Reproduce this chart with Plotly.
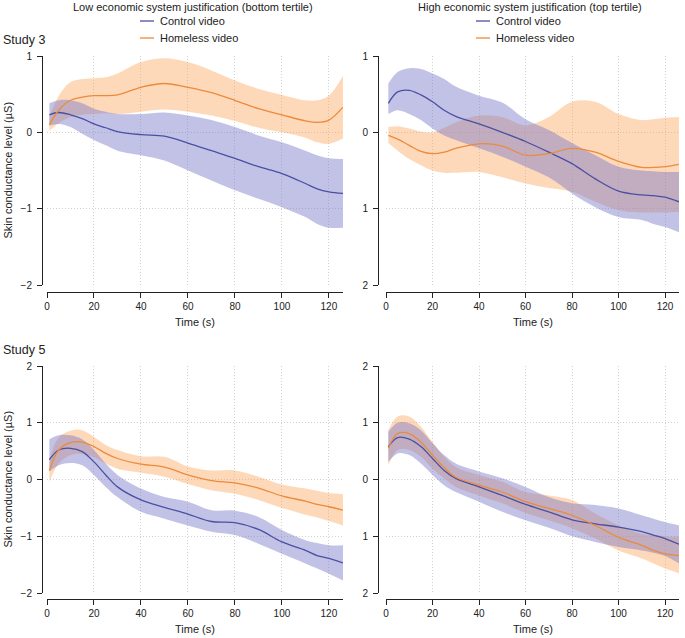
import plotly.graph_objects as go

# ---------------- data ----------------
TIME = [1, 5, 10, 15, 20, 25, 30, 40, 50, 60, 70, 80, 90, 100, 110, 115, 120, 126]
X_TICKS = [0, 20, 40, 60, 80, 100, 120]

# Study 3, low system justification (bottom tertile)
S3_LOW_CONTROL = [0.23, 0.26, 0.23, 0.18, 0.11, 0.06, 0.01, -0.03, -0.05, -0.14, -0.24, -0.34, -0.45, -0.54, -0.67, -0.74, -0.78, -0.80]
S3_LOW_CONTROL_HI = [0.38, 0.42, 0.42, 0.38, 0.31, 0.27, 0.24, 0.24, 0.26, 0.22, 0.16, 0.07, -0.04, -0.13, -0.24, -0.30, -0.34, -0.35]
S3_LOW_CONTROL_LO = [0.09, 0.11, 0.07, -0.02, -0.10, -0.17, -0.24, -0.30, -0.37, -0.50, -0.63, -0.76, -0.87, -0.98, -1.11, -1.20, -1.25, -1.25]
S3_LOW_HOMELESS = [0.10, 0.29, 0.42, 0.46, 0.48, 0.48, 0.49, 0.59, 0.64, 0.59, 0.52, 0.42, 0.31, 0.23, 0.15, 0.13, 0.16, 0.33]
S3_LOW_HOMELESS_HI = [0.20, 0.48, 0.66, 0.70, 0.71, 0.72, 0.77, 0.92, 0.97, 0.92, 0.81, 0.68, 0.57, 0.49, 0.42, 0.42, 0.48, 0.74]
S3_LOW_HOMELESS_LO = [0.02, 0.12, 0.20, 0.23, 0.24, 0.25, 0.24, 0.27, 0.30, 0.27, 0.22, 0.15, 0.06, 0.00, -0.07, -0.13, -0.15, -0.08]

# Study 3, high system justification (top tertile)
S3_HIGH_CONTROL = [0.38, 0.53, 0.55, 0.49, 0.40, 0.29, 0.21, 0.11, 0.00, -0.12, -0.26, -0.41, -0.61, -0.77, -0.82, -0.83, -0.85, -0.91]
S3_HIGH_CONTROL_HI = [0.64, 0.79, 0.84, 0.83, 0.77, 0.70, 0.60, 0.48, 0.39, 0.17, 0.03, -0.14, -0.30, -0.45, -0.50, -0.51, -0.52, -0.52]
S3_HIGH_CONTROL_LO = [0.24, 0.29, 0.24, 0.16, 0.05, -0.04, -0.10, -0.21, -0.32, -0.45, -0.59, -0.80, -0.98, -1.11, -1.15, -1.20, -1.24, -1.31]
S3_HIGH_HOMELESS = [-0.04, -0.09, -0.17, -0.25, -0.28, -0.26, -0.21, -0.15, -0.18, -0.30, -0.28, -0.21, -0.26, -0.38, -0.46, -0.46, -0.45, -0.42]
S3_HIGH_HOMELESS_HI = [0.07, 0.08, 0.05, 0.01, 0.00, 0.06, 0.13, 0.22, 0.20, 0.09, 0.20, 0.40, 0.40, 0.24, 0.16, 0.17, 0.19, 0.20]
S3_HIGH_HOMELESS_LO = [-0.14, -0.24, -0.35, -0.43, -0.50, -0.53, -0.53, -0.52, -0.59, -0.67, -0.73, -0.78, -0.91, -1.02, -1.05, -1.05, -1.05, -1.04]

# Study 5, low system justification (bottom tertile)
S5_LOW_CONTROL = [0.35, 0.52, 0.55, 0.49, 0.31, 0.08, -0.13, -0.36, -0.49, -0.61, -0.74, -0.76, -0.88, -1.10, -1.25, -1.34, -1.39, -1.47]
S5_LOW_CONTROL_HI = [0.71, 0.78, 0.78, 0.71, 0.52, 0.28, 0.08, -0.16, -0.31, -0.39, -0.54, -0.55, -0.66, -0.89, -1.07, -1.12, -1.16, -1.16]
S5_LOW_CONTROL_LO = [0.14, 0.25, 0.29, 0.25, 0.08, -0.13, -0.31, -0.57, -0.69, -0.81, -0.92, -0.98, -1.13, -1.31, -1.48, -1.57, -1.66, -1.78]
S5_LOW_HOMELESS = [0.16, 0.52, 0.65, 0.66, 0.58, 0.46, 0.37, 0.27, 0.22, 0.08, -0.02, -0.06, -0.15, -0.29, -0.38, -0.44, -0.48, -0.54]
S5_LOW_HOMELESS_HI = [0.34, 0.74, 0.86, 0.87, 0.75, 0.61, 0.52, 0.41, 0.40, 0.23, 0.16, 0.16, 0.05, -0.09, -0.16, -0.20, -0.24, -0.26]
S5_LOW_HOMELESS_LO = [-0.04, 0.28, 0.43, 0.45, 0.39, 0.28, 0.19, 0.12, 0.05, -0.08, -0.19, -0.25, -0.36, -0.50, -0.62, -0.67, -0.73, -0.81]

# Study 5, high system justification (top tertile)
S5_HIGH_CONTROL = [0.58, 0.74, 0.71, 0.58, 0.37, 0.16, 0.02, -0.13, -0.28, -0.44, -0.57, -0.71, -0.78, -0.84, -0.92, -0.98, -1.04, -1.14]
S5_HIGH_CONTROL_HI = [0.84, 1.00, 0.99, 0.87, 0.64, 0.43, 0.28, 0.14, 0.02, -0.13, -0.31, -0.42, -0.45, -0.51, -0.63, -0.69, -0.75, -0.81]
S5_HIGH_CONTROL_LO = [0.31, 0.46, 0.43, 0.28, 0.08, -0.10, -0.22, -0.39, -0.57, -0.72, -0.85, -1.00, -1.10, -1.19, -1.25, -1.29, -1.35, -1.48]
S5_HIGH_HOMELESS = [0.55, 0.81, 0.81, 0.66, 0.43, 0.21, 0.04, -0.10, -0.22, -0.39, -0.51, -0.63, -0.81, -1.02, -1.16, -1.25, -1.31, -1.34]
S5_HIGH_HOMELESS_HI = [0.87, 1.11, 1.11, 0.93, 0.66, 0.40, 0.22, 0.08, -0.04, -0.22, -0.28, -0.36, -0.60, -0.81, -0.96, -0.98, -1.00, -1.01]
S5_HIGH_HOMELESS_LO = [0.25, 0.52, 0.52, 0.40, 0.19, 0.02, -0.13, -0.28, -0.42, -0.59, -0.72, -0.86, -1.04, -1.25, -1.39, -1.48, -1.57, -1.65]

COL_TITLES = ["Low economic system justification (bottom tertile)",
              "High economic system justification (top tertile)"]
ROW_LABELS = ["Study 3", "Study 5"]
SERIES_NAMES = ["Control video", "Homeless video"]
Y_TITLE = "Skin conductance level (µS)"
X_TITLE = "Time (s)"

# ---------------- styling ----------------
W, H = 685, 638
FONT = "Liberation Sans, Arial, Helvetica, sans-serif"
CTRL_LINE = "#4b4fa3"
CTRL_FILL = "rgba(120,120,200,0.45)"
HOME_LINE = "#ec8a3c"
HOME_FILL = "rgba(253,160,80,0.40)"
AXIS_COL = "#222222"
GRID_COL = "#d0d0d0"


def fx(p):
    return p / W


def fy(p):
    return 1 - p / H


panels = [
    dict(n=1, xpx=(47, 343), ypx=(56, 285), yline=42, xline=292, yr=[-2, 1],
         tv=[-2, -1, 0, 1], tt=["−2", "−1", "0", "1"],
         ctrl=(S3_LOW_CONTROL, S3_LOW_CONTROL_LO, S3_LOW_CONTROL_HI),
         home=(S3_LOW_HOMELESS, S3_LOW_HOMELESS_LO, S3_LOW_HOMELESS_HI)),
    dict(n=2, xpx=(386, 679), ypx=(56, 285), yline=378, xline=292, yr=[-2, 1],
         tv=[-2, -1, 0, 1], tt=["2", "1", "0", "1"],
         ctrl=(S3_HIGH_CONTROL, S3_HIGH_CONTROL_LO, S3_HIGH_CONTROL_HI),
         home=(S3_HIGH_HOMELESS, S3_HIGH_HOMELESS_LO, S3_HIGH_HOMELESS_HI)),
    dict(n=3, xpx=(47, 343), ypx=(366, 593), yline=42, xline=599, yr=[-2, 2],
         tv=[-2, -1, 0, 1, 2], tt=["−2", "−1", "0", "1", "2"],
         ctrl=(S5_LOW_CONTROL, S5_LOW_CONTROL_LO, S5_LOW_CONTROL_HI),
         home=(S5_LOW_HOMELESS, S5_LOW_HOMELESS_LO, S5_LOW_HOMELESS_HI)),
    dict(n=4, xpx=(386, 679), ypx=(366, 593), yline=378, xline=599, yr=[-2, 2],
         tv=[-2, -1, 0, 1, 2], tt=["2", "1", "0", "1", "2"],
         ctrl=(S5_HIGH_CONTROL, S5_HIGH_CONTROL_LO, S5_HIGH_CONTROL_HI),
         home=(S5_HIGH_HOMELESS, S5_HIGH_HOMELESS_LO, S5_HIGH_HOMELESS_HI)),
]

fig = go.Figure()
layout_axes = {}
annotations = []
shapes = []

for p in panels:
    sfx = "" if p["n"] == 1 else str(p["n"])
    xa, ya = "x" + sfx, "y" + sfx

    def band(lo, hi, fill):
        fig.add_trace(go.Scatter(x=TIME, y=hi, mode="lines",
                                 line=dict(width=0, shape="spline", color=fill),
                                 showlegend=False, hoverinfo="skip", xaxis=xa, yaxis=ya))
        fig.add_trace(go.Scatter(x=TIME, y=lo, mode="lines", fill="tonexty", fillcolor=fill,
                                 line=dict(width=0, shape="spline", color=fill),
                                 showlegend=False, hoverinfo="skip", xaxis=xa, yaxis=ya))

    band(p["home"][1], p["home"][2], HOME_FILL)
    band(p["ctrl"][1], p["ctrl"][2], CTRL_FILL)
    fig.add_trace(go.Scatter(x=TIME, y=p["ctrl"][0], mode="lines", name=SERIES_NAMES[0],
                             line=dict(width=1.3, shape="spline", color=CTRL_LINE),
                             showlegend=False, xaxis=xa, yaxis=ya))
    fig.add_trace(go.Scatter(x=TIME, y=p["home"][0], mode="lines", name=SERIES_NAMES[1],
                             line=dict(width=1.3, shape="spline", color=HOME_LINE),
                             showlegend=False, xaxis=xa, yaxis=ya))

    common = dict(showline=True, linecolor=AXIS_COL, linewidth=1, ticks="outside", ticklen=5,
                  tickwidth=1, tickcolor=AXIS_COL, showgrid=True, gridcolor=GRID_COL,
                  griddash="1px,2px", gridwidth=1, zeroline=False, automargin=False,
                  tickfont=dict(family=FONT, size=10, color=AXIS_COL), anchor="free",
                  fixedrange=True)
    layout_axes["xaxis" + sfx] = dict(common, domain=[fx(p["xpx"][0]), fx(p["xpx"][1])],
                                      range=[0, 126], position=fy(p["xline"]),
                                      tickmode="array", tickvals=X_TICKS)
    layout_axes["yaxis" + sfx] = dict(common, domain=[fy(p["ypx"][1]), fy(p["ypx"][0])],
                                      range=p["yr"], position=fx(p["yline"]),
                                      tickmode="array", tickvals=p["tv"], ticktext=p["tt"],
                                      ticklabelstandoff=3)
    # x-axis title
    annotations.append(dict(text=X_TITLE, xref="paper", yref="paper",
                            x=fx((p["xpx"][0] + p["xpx"][1]) / 2), y=fy(p["xline"] + 30),
                            xanchor="center", yanchor="middle", showarrow=False,
                            font=dict(family=FONT, size=11, color=AXIS_COL)))
    if p["n"] in (1, 3):
        annotations.append(dict(text=Y_TITLE, xref="paper", yref="paper", textangle=-90,
                                x=fx(8), y=fy((p["ypx"][0] + p["ypx"][1]) / 2),
                                xanchor="center", yanchor="middle", showarrow=False,
                                font=dict(family=FONT, size=11, color=AXIS_COL)))

# column titles
for cx, t in zip([193, 530], COL_TITLES):
    annotations.append(dict(text=t, xref="paper", yref="paper", x=fx(cx), y=fy(7),
                            xanchor="center", yanchor="middle", showarrow=False,
                            font=dict(family=FONT, size=11, color=AXIS_COL)))
# row labels
for ry, t in zip([40, 350], ROW_LABELS):
    annotations.append(dict(text=t, xref="paper", yref="paper", x=fx(1), y=fy(ry),
                            xanchor="left", yanchor="middle", showarrow=False,
                            font=dict(family=FONT, size=12.5, color=AXIS_COL)))
# manual legends above the top panels
for lx in [140, 476]:
    for ly, name, col in zip([21, 38], SERIES_NAMES, [CTRL_LINE, HOME_LINE]):
        shapes.append(dict(type="line", xref="paper", yref="paper",
                           x0=fx(lx), x1=fx(lx + 14), y0=fy(ly), y1=fy(ly),
                           line=dict(color=col, width=1.3)))
        annotations.append(dict(text=name, xref="paper", yref="paper", x=fx(lx + 18), y=fy(ly),
                                xanchor="left", yanchor="middle", showarrow=False,
                                font=dict(family=FONT, size=11, color=AXIS_COL)))

fig.update_layout(width=W, height=H, margin=dict(l=0, r=0, t=0, b=0, pad=0),
                  paper_bgcolor="white", plot_bgcolor="white", showlegend=False,
                  annotations=annotations, shapes=shapes,
                  font=dict(family=FONT, size=11, color=AXIS_COL), **layout_axes)

fig.write_html("out.html", config={"displayModeBar": False},
               post_script="document.body.style.margin='0px';document.body.style.overflow='hidden';")
